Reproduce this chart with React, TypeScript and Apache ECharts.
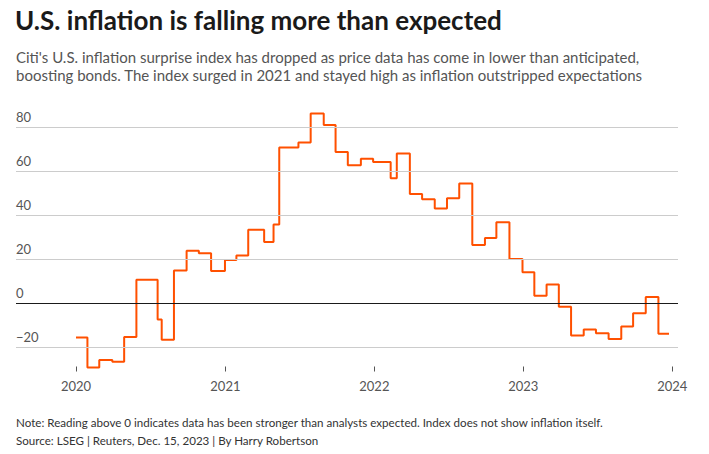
import React, { useEffect, useRef } from "react";
import * as echarts from "echarts";

const dates = [
  "2020-01-01", "2020-01-29", "2020-02-27", "2020-03-30", "2020-04-28", "2020-05-28",
  "2020-07-19", "2020-07-29", "2020-08-28", "2020-09-28", "2020-10-28", "2020-11-27",
  "2020-12-31", "2021-01-28", "2021-02-26", "2021-04-06", "2021-04-29", "2021-05-13",
  "2021-06-29", "2021-07-29", "2021-08-30", "2021-09-28", "2021-10-28", "2021-11-29",
  "2021-12-29", "2022-02-10", "2022-02-25", "2022-03-29", "2022-04-28", "2022-05-29",
  "2022-06-28", "2022-07-28", "2022-08-29", "2022-09-29", "2022-10-27", "2022-11-28",
  "2022-12-30", "2023-01-28", "2023-02-27", "2023-03-29", "2023-04-28", "2023-05-29",
  "2023-06-28", "2023-07-29", "2023-08-29", "2023-09-27", "2023-10-28", "2023-11-28",
  "2023-12-24",
];

const values = [
  -15.7, -29.3, -25.9, -26.7, -15.4, 10.6,
  -7.5, -16.7, 14.8, 23.8, 22.6, 14.6,
  19.6, 21.6, 33.3, 27.7, 35.7, 70.7,
  73.0, 86.1, 80.9, 68.6, 62.6, 65.6,
  64.1, 56.7, 68.0, 49.6, 47.2, 43.0,
  47.6, 54.3, 26.4, 29.5, 36.7, 20.0,
  14.0, 3.3, 8.4, -1.7, -14.8, -12.1,
  -13.7, -16.4, -10.7, -4.7, 2.7, -14.0,
  -14.0,
];

const yTicks = [-20, 0, 20, 40, 60, 80];
const xYears = ["2020-01-01", "2021-01-01", "2022-01-01", "2023-01-01", "2024-01-01"];
const xRange = ["2019-08-07", "2024-01-15"];

const titleText = "U.S. inflation is falling more than expected";
const subtitleLines = [
  "Citi's U.S. inflation surprise index has dropped as price data has come in lower than anticipated,",
  "boosting bonds. The index surged in 2021 and stayed high as inflation outstripped expectations",
];
const footerLines = [
  "Note: Reading above 0 indicates data has been stronger than analysts expected. Index does not show inflation itself.",
  "Source: LSEG | Reuters, Dec. 15, 2023 | By Harry Robertson",
];

function ts(s: string): number {
  const [y, m, d] = s.split("-").map(Number);
  return new Date(y, m - 1, d).getTime();
}

function fmtNum(v: number): string {
  return v < 0 ? "\u2212" + Math.abs(v) : String(v);
}

const FONT = "Lato, 'Noto Sans', sans-serif";

export default function App() {
  const ref = useRef<HTMLDivElement>(null);
  useEffect(() => {
    if (!ref.current) return;
    const chart = echarts.init(ref.current, undefined, { renderer: "svg" });
    const seriesData = dates.map((d, i) => [ts(d), values[i]]);
    const yearTs = xYears.map(ts);
    chart.setOption({
      animation: false,
      textStyle: { fontFamily: FONT },
      grid: { left: 16, right: 31, top: 105, bottom: 85, containLabel: false },
      xAxis: {
        type: "value",
        min: ts(xRange[0]),
        max: ts(xRange[1]),
        offset: -2.5,
        axisLine: { show: false, onZero: false },
        axisTick: {
          show: true,
          length: 5,
          lineStyle: { color: "#555", width: 1 },
          customValues: yearTs,
        },
        axisLabel: {
          show: true,
          customValues: yearTs,
          margin: 13,
          color: "#555",
          fontSize: 13,
          fontFamily: FONT,
          formatter: (v: number) => String(new Date(v).getFullYear()),
        },
        splitLine: { show: false },
      },
      yAxis: {
        type: "value",
        min: -30,
        max: 90,
        axisLine: { show: false, onZero: false },
        axisTick: { show: false },
        axisLabel: { show: false },
        splitLine: { show: false },
      },
      series: [
        {
          type: "line",
          data: [],
          z: 1,
          silent: true,
          markLine: {
            silent: true,
            symbol: ["none", "none"],
            animation: false,
            label: {
              show: true,
              position: "insideStartTop",
              distance: [0, 4],
              color: "#555",
              fontSize: 13,
              fontFamily: FONT,
              formatter: (p: any) => fmtNum(p.value),
            },
            data: yTicks.map((v) => ({
              yAxis: v,
              lineStyle: { color: v === 0 ? "#1a1a1a" : "#cccccc", width: 1, type: "solid" },
            })),
          },
        },
        {
          type: "line",
          data: seriesData,
          step: "end",
          z: 3,
          showSymbol: false,
          symbol: "none",
          lineStyle: { color: "#ff5000", width: 2 },
          silent: true,
        },
      ],
      graphic: [
        {
          type: "text",
          x: 15,
          y: 20,
          style: {
            text: titleText,
            font: `bold 26px ${FONT}`,
            fill: "#1a1a1a",
            verticalAlign: "middle",
          },
        },
        ...subtitleLines.map((t, i) => ({
          type: "text",
          x: 16,
          y: 57 + i * 17.5,
          style: {
            text: t,
            font: `15px ${FONT}`,
            fill: "#555555",
            verticalAlign: "middle",
          },
        })),
        ...footerLines.map((t, i) => ({
          type: "text",
          x: 16,
          y: 422 + i * 18.7,
          style: {
            text: t,
            font: `11.6px ${FONT}`,
            fill: "#333333",
            verticalAlign: "middle",
          },
        })),
      ],
    });
    return () => chart.dispose();
  }, []);
  return (
    <div
      ref={ref}
      style={{ position: "absolute", left: 0, top: 0, width: 709, height: 454 }}
    />
  );
}
